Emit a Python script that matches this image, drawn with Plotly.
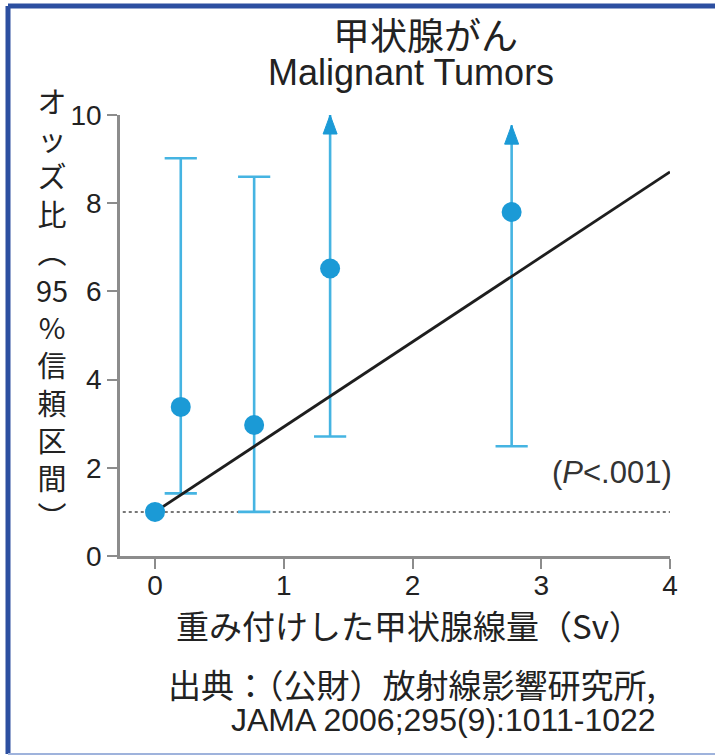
import plotly.graph_objects as go

# ---------------- data ----------------
dose = [0.0, 0.2, 0.77, 1.36, 2.77]
odds_ratio = [1.0, 3.38, 2.97, 6.52, 7.80]
ci_low = [None, 1.42, 1.00, 2.71, 2.49]
ci_high = [None, 9.02, 8.60, 10.0, 9.77]
open_upper = [False, False, False, True, True]   # upper bound shown as arrow

fit_x = [0.0, 4.0]
fit_y = [1.0, 8.71]

ref_y = 1.0
x_ticks = [0, 1, 2, 3, 4]
y_ticks = [0, 2, 4, 6, 8, 10]

title_jp = "甲状腺がん"
title_en = "Malignant Tumors"
x_title = "重み付けした甲状腺線量（Sv）"
y_title_chars = ["オ", "ッ", "ズ", "比", "︵", "95", "%", "信", "頼", "区", "間", "︶"]
p_text = "(<i>P</i>&lt;.001)"
source_1 = "出典：（公財）放射線影響研究所,"
source_2 = "JAMA 2006;295(9):1011-1022"

# ---------------- style ----------------
W, H = 715, 756
ML, MR, MT, MB = 120, 45, 115, 200
X_RANGE = [-0.272, 4.0]
Y_RANGE = [0, 10]
PW = W - ML - MR
PH = H - MT - MB
px_x = (X_RANGE[1] - X_RANGE[0]) / PW
px_y = (Y_RANGE[1] - Y_RANGE[0]) / PH

DOT_BLUE = "#1b9ad6"
BAR_BLUE = "#45b4e2"
AXIS_GRAY = "#8c8c8c"
TXT = "#222222"
LAT = "Liberation Sans, Arial, Noto Sans CJK JP"
JP = "Noto Sans CJK JP, Liberation Sans"

fig = go.Figure()

# error bar stems
ex, ey = [], []
for d, lo, hi in zip(dose, ci_low, ci_high):
    if lo is None:
        continue
    ex += [d, d, None]
    ey += [lo, hi, None]
fig.add_trace(go.Scatter(x=ex, y=ey, mode="lines",
                         line=dict(color=BAR_BLUE, width=2.6),
                         hoverinfo="skip", showlegend=False))

# caps
cx, cy = [], []
for d, lo, hi, op in zip(dose, ci_low, ci_high, open_upper):
    if lo is None:
        continue
    cx.append(d); cy.append(lo)
    if not op:
        cx.append(d); cy.append(hi)
fig.add_trace(go.Scatter(x=cx, y=cy, mode="markers",
                         marker=dict(symbol="line-ew", size=23,
                                     line=dict(color=BAR_BLUE, width=2.6)),
                         cliponaxis=False, hoverinfo="skip", showlegend=False))

# arrow heads
half_w = 7 * px_x
head_h = 19 * px_y
for d, hi, op in zip(dose, ci_high, open_upper):
    if not op:
        continue
    fig.add_trace(go.Scatter(x=[d - half_w, d + half_w, d, d - half_w],
                             y=[hi - head_h, hi - head_h, hi, hi - head_h],
                             mode="lines", fill="toself", fillcolor=DOT_BLUE,
                             line=dict(color=DOT_BLUE, width=1),
                             hoverinfo="skip", showlegend=False))

# fit line
fig.add_trace(go.Scatter(x=fit_x, y=fit_y, mode="lines",
                         line=dict(color="#1e1e1e", width=2.8),
                         hoverinfo="skip", showlegend=False))

# points
fig.add_trace(go.Scatter(x=dose, y=odds_ratio, mode="markers",
                         marker=dict(color=DOT_BLUE, size=20, line=dict(width=0)),
                         cliponaxis=False, showlegend=False))

# reference dotted line
fig.add_shape(type="line", xref="paper", yref="y", x0=0.005, x1=1, y0=ref_y, y1=ref_y,
              line=dict(color="#777777", width=2, dash="dot"), layer="below")

# frame border
def px2paper(x, y):
    return (x - ML) / PW, (H - MB - y) / PH

bx0, by0 = px2paper(8, 6)
bx1, by1 = px2paper(730, 754)
fig.add_shape(type="line", xref="paper", yref="paper", x0=bx0, x1=bx0, y0=by0, y1=by1,
              line=dict(color="#2c4fa0", width=5))
fig.add_shape(type="line", xref="paper", yref="paper", x0=bx0, x1=bx1, y0=by0, y1=by0,
              line=dict(color="#2c4fa0", width=5))
fig.add_shape(type="line", xref="paper", yref="paper", x0=bx0, x1=bx1, y0=by1, y1=by1,
              line=dict(color="#9fb3dc", width=2))

def ann(text, x, y, size, family, xanchor="center", yanchor="middle"):
    px, py = px2paper(x, y)
    fig.add_annotation(text=text, xref="paper", yref="paper", x=px, y=py,
                       xanchor=xanchor, yanchor=yanchor, showarrow=False,
                       font=dict(size=size, family=family, color=TXT))

ann(title_jp, 425, 34, 37, JP)
ann(title_en, 411, 73, 36, LAT)
ann("<br>".join(y_title_chars), 52, 307, 29, JP)
ann(x_title, 409, 625, 33, JP)
ann(source_1, 658, 684, 33, JP, xanchor="right")
ann(source_2, 658, 720, 32, LAT, xanchor="right")

fig.add_annotation(text=p_text, xref="x", yref="y", x=4.0, y=1.9,
                   xanchor="right", yanchor="middle", xshift=4, showarrow=False,
                   font=dict(size=31, family=LAT, color="#333333"))

axis_common = dict(showline=True, linecolor=AXIS_GRAY, linewidth=2.5,
                   ticks="outside", ticklen=10, tickwidth=2.2, tickcolor=AXIS_GRAY,
                   showgrid=False, zeroline=False,
                   tickfont=dict(size=28, family=LAT, color=TXT))

fig.update_layout(
    width=W, height=H,
    margin=dict(l=ML, r=MR, t=MT, b=MB),
    paper_bgcolor="white", plot_bgcolor="white",
    xaxis=dict(range=X_RANGE, tickvals=x_ticks, ticklabelstandoff=-7, **axis_common),
    yaxis=dict(range=Y_RANGE, tickvals=y_ticks, **axis_common),
    showlegend=False,
)

fig.write_html("out.html",
               config={"displayModeBar": False},
               post_script="document.body.style.margin='0px';document.body.style.overflow='hidden';")
